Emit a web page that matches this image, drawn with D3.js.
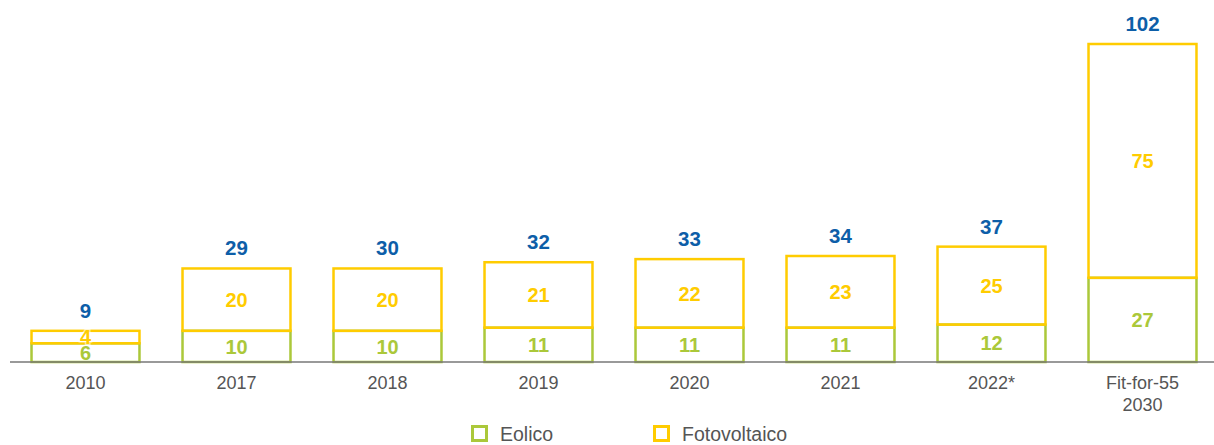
<!DOCTYPE html>
<html>
<head>
<meta charset="utf-8">
<script src="https://cdn.jsdelivr.net/npm/d3@7"></script>
<style>
  body { margin: 0; background: #fff; }
  svg text { font-family: "Liberation Sans", Arial, sans-serif; }
</style>
</head>
<body>
<div class="chart"></div>
<script>
// data
const categories = ['2010', '2017', '2018', '2019', '2020', '2021', '2022*', 'Fit-for-55\n2030'];
const eolico = [6, 10, 10, 11, 11, 11, 12, 27];
const fotovoltaico = [4, 20, 20, 21, 22, 23, 25, 75];
const totals = [9, 29, 30, 32, 33, 34, 37, 102];
const seriesNames = ['Eolico', 'Fotovoltaico'];

const width = 1214, height = 445;
const baseY = 362;
const green = '#abc83a', yellow = '#ffcc00', blue = '#0d5ea8', grey = '#555';

const svg = d3.select('.chart').append('svg')
  .attr('width', width).attr('height', height);

const x = d3.scaleBand()
  .domain(categories)
  .range([10, 1218])
  .paddingInner(0.285)
  .paddingOuter(0.1425);

const y = d3.scaleLinear()
  .domain([0, 102])
  .range([baseY, 44]);

const g = svg.append('g');

// eolico boxes (bottom)
g.selectAll('rect.eol').data(categories).enter().append('rect')
  .attr('class', 'eol')
  .attr('x', d => x(d))
  .attr('width', x.bandwidth())
  .attr('y', (d, i) => y(eolico[i]))
  .attr('height', (d, i) => baseY - y(eolico[i]))
  .attr('fill', 'none')
  .attr('stroke', green)
  .attr('stroke-width', 2.5);

// fotovoltaico boxes (top)
g.selectAll('rect.fv').data(categories).enter().append('rect')
  .attr('class', 'fv')
  .attr('x', d => x(d))
  .attr('width', x.bandwidth())
  .attr('y', (d, i) => y(eolico[i] + fotovoltaico[i]))
  .attr('height', (d, i) => y(eolico[i]) - y(eolico[i] + fotovoltaico[i]))
  .attr('fill', 'none')
  .attr('stroke', yellow)
  .attr('stroke-width', 2.5);

// axis line
svg.append('line')
  .attr('x1', 10).attr('x2', width)
  .attr('y1', baseY).attr('y2', baseY)
  .attr('stroke', '#777').attr('stroke-width', 1.5);

// segment labels
g.selectAll('text.eolv').data(categories).enter().append('text')
  .attr('x', d => x(d) + x.bandwidth() / 2)
  .attr('y', (d, i) => (y(eolico[i]) + baseY) / 2)
  .attr('dy', '0.36em')
  .attr('text-anchor', 'middle')
  .attr('font-size', 20).attr('font-weight', 'bold')
  .attr('fill', green)
  .text((d, i) => eolico[i]);

g.selectAll('text.fvv').data(categories).enter().append('text')
  .attr('x', d => x(d) + x.bandwidth() / 2)
  .attr('y', (d, i) => (y(eolico[i]) + y(eolico[i] + fotovoltaico[i])) / 2)
  .attr('dy', '0.36em')
  .attr('text-anchor', 'middle')
  .attr('font-size', 20).attr('font-weight', 'bold')
  .attr('fill', yellow)
  .attr('stroke', 'rgba(255,255,255,0.6)')
  .attr('stroke-width', 3)
  .attr('paint-order', 'stroke')
  .text((d, i) => fotovoltaico[i]);

// totals
g.selectAll('text.tot').data(categories).enter().append('text')
  .attr('x', d => x(d) + x.bandwidth() / 2)
  .attr('y', (d, i) => y(eolico[i] + fotovoltaico[i]) - 13)
  .attr('text-anchor', 'middle')
  .attr('font-size', 20.5).attr('font-weight', 'bold')
  .attr('fill', blue)
  .text((d, i) => totals[i]);

// category labels
const cat = svg.selectAll('text.cat').data(categories).enter().append('text')
  .attr('x', d => x(d) + x.bandwidth() / 2)
  .attr('y', 389)
  .attr('text-anchor', 'middle')
  .attr('font-size', 18)
  .attr('fill', grey);
cat.selectAll('tspan').data(d => d.split('\n')).enter().append('tspan')
  .attr('x', function () { return this.parentNode.getAttribute('x'); })
  .attr('dy', (d, i) => i === 0 ? 0 : 22)
  .text(d => d);

// legend
const legendX = [471, 653];
const legendColors = [green, yellow];
const leg = svg.selectAll('g.leg').data(seriesNames).enter().append('g')
  .attr('transform', (d, i) => 'translate(' + legendX[i] + ',425)');
leg.append('rect')
  .attr('x', 1.5).attr('y', 1.5)
  .attr('width', 14).attr('height', 14)
  .attr('fill', 'none')
  .attr('stroke', (d, i) => legendColors[i])
  .attr('stroke-width', 3);
leg.append('text')
  .attr('x', 29).attr('y', 16)
  .attr('font-size', 19.5)
  .attr('fill', grey)
  .text(d => d);
</script>
</body>
</html>
